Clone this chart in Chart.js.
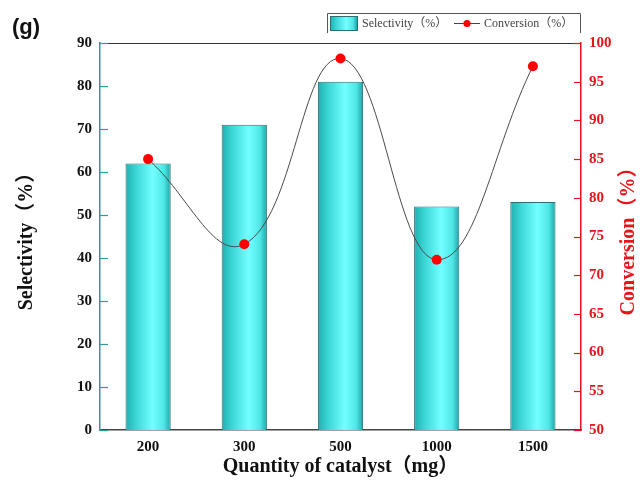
<!DOCTYPE html>
<html>
<head>
<meta charset="utf-8">
<script src="https://cdn.jsdelivr.net/npm/chart.js@4"></script>
<style>
  html, body { margin: 0; padding: 0; background: #fff; }
  #wrap { width: 640px; height: 491px; }
</style>
</head>
<body>
<div id="wrap"><canvas id="c" width="640" height="491"></canvas></div>
<script>
// Catalyst loading (mg) and the two measured responses
const categories = ['200', '300', '500', '1000', '1500'];
const selectivity = [62, 71, 81, 52, 53];   // %, left axis (bars)
const conversion = [85, 74, 98, 72, 97];    // %, right axis (line)

const selectivityTicks = [0, 10, 20, 30, 40, 50, 60, 70, 80, 90];
const conversionTicks = [50, 55, 60, 65, 70, 75, 80, 85, 90, 95, 100];

const panelLabel = '(g)';
const xTitle = 'Quantity of catalyst（mg）';
const leftTitle = 'Selectivity（%）';
const rightTitle = 'Conversion（%）';
const selLabel = 'Selectivity（%）';
const convLabel = 'Conversion（%）';

const SERIF = "'Liberation Serif', 'Times New Roman', 'Noto Sans CJK SC', serif";
const TEAL_AXIS = '#2f9a9a';
const RED = '#e8141b';
const BAR_PCT = 0.47;

function cyanGradient(ctx, x0, x1) {
  const g = ctx.createLinearGradient(x0, 0, x1, 0);
  g.addColorStop(0, '#1fb0b0');
  g.addColorStop(0.25, '#3fd8d8');
  g.addColorStop(0.6, '#72ffff');
  g.addColorStop(0.85, '#4fe6e6');
  g.addColorStop(1, '#1ca4a4');
  return g;
}

function barFill(context) {
  const chart = context.chart;
  const area = chart.chartArea;
  if (!area || !chart.scales.x) return '#4fe6e6';
  const cx = chart.scales.x.getPixelForValue(context.dataIndex);
  const half = (area.width / categories.length) * BAR_PCT / 2;
  return cyanGradient(chart.ctx, cx - half, cx + half);
}

// Inward tick marks, top frame line, panel letter, legend box and right-hand title
const decorations = {
  id: 'decorations',
  afterDraw(chart) {
    const ctx = chart.ctx;
    const area = chart.chartArea;
    const yS = chart.scales.y;
    const y1S = chart.scales.y1;
    ctx.save();

    // top frame
    ctx.strokeStyle = '#333';
    ctx.lineWidth = 1;
    ctx.beginPath();
    ctx.moveTo(area.left, area.top + 0.5);
    ctx.lineTo(area.right, area.top + 0.5);
    ctx.stroke();

    // left axis ticks (pointing into the plot)
    ctx.strokeStyle = TEAL_AXIS;
    ctx.lineWidth = 1.2;
    selectivityTicks.forEach(v => {
      const y = Math.round(yS.getPixelForValue(v)) + 0.5;
      ctx.beginPath();
      ctx.moveTo(area.left, y);
      ctx.lineTo(area.left + 8, y);
      ctx.stroke();
    });

    // right axis ticks (pointing into the plot)
    ctx.strokeStyle = RED;
    conversionTicks.forEach(v => {
      const y = Math.round(y1S.getPixelForValue(v)) + 0.5;
      ctx.beginPath();
      ctx.moveTo(area.right, y);
      ctx.lineTo(area.right - 7, y);
      ctx.stroke();
    });

    // panel letter
    ctx.fillStyle = '#111';
    ctx.font = "bold 22px 'Liberation Sans', Arial, sans-serif";
    ctx.textAlign = 'left';
    ctx.textBaseline = 'alphabetic';
    ctx.fillText(panelLabel, 12, 34);

    // right-hand axis title, reading bottom to top
    ctx.save();
    ctx.translate(629, (area.top + area.bottom) / 2);
    ctx.rotate(-Math.PI / 2);
    ctx.fillStyle = RED;
    ctx.font = 'bold 20px ' + SERIF;
    ctx.textAlign = 'center';
    ctx.textBaseline = 'middle';
    ctx.fillText(rightTitle, 0, 0);
    ctx.restore();

    // legend
    const lx0 = 327.5, lx1 = 580.5, ly0 = 13.5, ly1 = 33;
    ctx.strokeStyle = '#555';
    ctx.lineWidth = 1;
    ctx.beginPath();
    ctx.moveTo(lx0, ly1);
    ctx.lineTo(lx0, ly0);
    ctx.lineTo(lx1, ly0);
    ctx.lineTo(lx1, ly1);
    ctx.stroke();

    const ds0 = chart.data.datasets[0];
    const ds1 = chart.data.datasets[1];
    const cy = 23.5;
    ctx.fillStyle = cyanGradient(ctx, 330, 357);
    ctx.fillRect(330, 16.5, 27, 14);
    ctx.strokeStyle = ds0.borderColor;
    ctx.strokeRect(330.5, 16.5, 27, 14);

    ctx.fillStyle = '#444';
    ctx.font = '12px ' + SERIF;
    ctx.textAlign = 'left';
    ctx.textBaseline = 'middle';
    ctx.fillText(ds0.label, 362, cy);

    ctx.strokeStyle = '#444';
    ctx.beginPath();
    ctx.moveTo(454, cy);
    ctx.lineTo(480, cy);
    ctx.stroke();
    ctx.fillStyle = ds1.pointBackgroundColor;
    ctx.beginPath();
    ctx.arc(467, cy, 3.6, 0, Math.PI * 2);
    ctx.fill();

    ctx.fillStyle = '#444';
    ctx.fillText(ds1.label, 484, cy);

    ctx.restore();
  }
};

new Chart(document.getElementById('c'), {
  data: {
    labels: categories,
    datasets: [
      {
        type: 'bar',
        label: selLabel,
        data: selectivity,
        yAxisID: 'y',
        backgroundColor: barFill,
        borderColor: '#2e6e6e',
        borderWidth: 1,
        categoryPercentage: 1,
        barPercentage: BAR_PCT,
        order: 2
      },
      {
        type: 'line',
        label: convLabel,
        data: conversion,
        yAxisID: 'y1',
        borderColor: '#4a4a4a',
        borderWidth: 1,
        tension: 0.42,
        pointRadius: 5,
        pointBackgroundColor: '#ff0000',
        pointBorderColor: '#ff0000',
        pointBorderWidth: 0,
        order: 1
      }
    ]
  },
  options: {
    responsive: false,
    animation: false,
    devicePixelRatio: 1,
    layout: { padding: { top: 43, left: 0, right: 0, bottom: 0 } },
    plugins: {
      legend: { display: false },
      tooltip: { enabled: false }
    },
    scales: {
      x: {
        offset: true,
        grid: { display: false, drawTicks: false },
        border: { display: true, color: '#444', width: 1.5 },
        ticks: {
          color: '#111',
          padding: 8,
          font: { family: SERIF, size: 15, weight: 'bold' }
        },
        title: {
          display: true,
          text: xTitle,
          color: '#111',
          font: { family: SERIF, size: 20, weight: 'bold' },
          padding: { top: 0, bottom: 12 }
        },
        afterFit(s) { s.height = 61; }
      },
      y: {
        position: 'left',
        min: 0,
        max: 90,
        grid: { display: false, drawTicks: false },
        border: { display: true, color: TEAL_AXIS, width: 1.5 },
        afterBuildTicks(s) { s.ticks = selectivityTicks.map(v => ({ value: v })); },
        ticks: {
          color: '#111',
          padding: 8,
          font: { family: SERIF, size: 15, weight: 'bold' }
        },
        title: {
          display: true,
          text: leftTitle,
          color: '#111',
          font: { family: SERIF, size: 20, weight: 'bold' },
          padding: { top: 15, bottom: 0 }
        },
        afterFit(s) { s.width = 100; }
      },
      y1: {
        position: 'right',
        min: 50,
        max: 100,
        grid: { display: false, drawTicks: false },
        border: { display: true, color: RED, width: 1.5 },
        afterBuildTicks(s) { s.ticks = conversionTicks.map(v => ({ value: v })); },
        ticks: {
          color: RED,
          padding: 8,
          font: { family: SERIF, size: 15, weight: 'bold' }
        },
        title: { display: false },
        afterFit(s) { s.width = 59; }
      }
    }
  },
  plugins: [decorations]
});
</script>
</body>
</html>
